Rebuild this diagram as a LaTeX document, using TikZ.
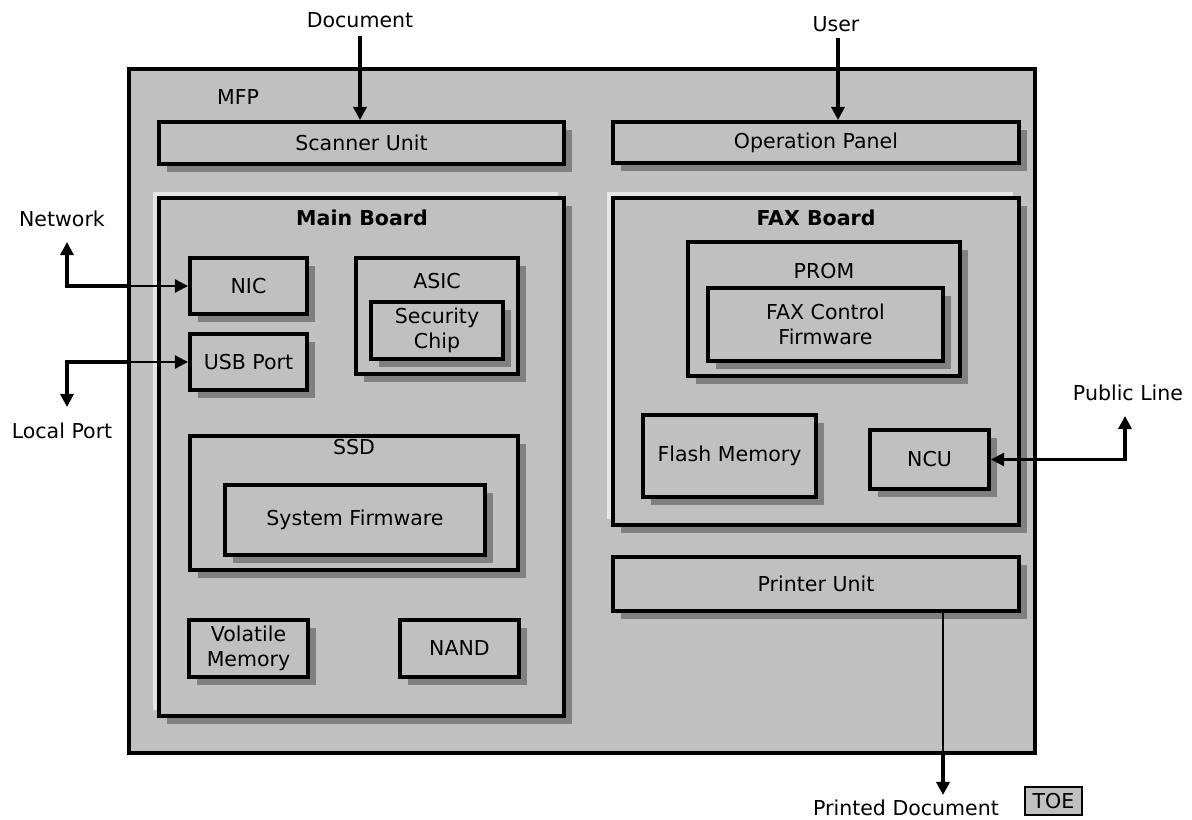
\documentclass[tikz,border=0pt]{standalone}
\usepackage{fontspec}
\setmainfont{DejaVu Sans}
\usetikzlibrary{arrows.meta,shadows}

\definecolor{boxgray}{HTML}{C0C0C0}
\definecolor{shadegray}{HTML}{808080}
\definecolor{litegray}{HTML}{E6E6E6}

\tikzset{
  dims/.style 2 args={minimum width=#1*0.025cm, minimum height=#2*0.025cm},
  unit/.style={draw, line width=2.8pt, fill=boxgray, align=center, inner sep=0pt,
    drop shadow={shadow xshift=0.2cm, shadow yshift=-0.2cm, fill=shadegray, opacity=1}},
  board/.style={unit,
    drop shadow={shadow xshift=-0.15cm, shadow yshift=0.15cm, fill=litegray, opacity=1}},
  nestbox/.style={draw, line width=2.2pt, fill=boxgray, align=center, inner sep=0pt,
    drop shadow={shadow xshift=0.2cm, shadow yshift=-0.2cm, fill=shadegray, opacity=1}},
  headed/.style={-{Triangle[length=0.33cm, width=0.33cm]}},
  ext/.style={line width=2.6pt},
  int/.style={line width=1.5pt}
}

\begin{document}
\begin{tikzpicture}[x=0.025cm, y=-0.025cm,
  every node/.style={font=\fontsize{14.6}{18}\selectfont},
  heading/.style={font=\fontsize{14.6}{18}\selectfont\bfseries}]

  \useasboundingbox (0,0) rectangle (1192,820);

  \node[draw, line width=3pt, fill=boxgray, dims={906}{684}] (mfp) at (582,411) {};
  \node (mfptxt) at (238,97) {MFP};

  \begin{scope}
    \node[unit, dims={405}{42}] (scan) at (361.5,143) {Scanner Unit};
    \node[unit, dims={406}{41}] (panel) at (816,142.5) {Operation Panel};
    \node[unit, dims={406}{54}] (prt) at (816,584) {Printer Unit};

    \node[board, dims={405}{518}] (mainb) at (361.5,457) {};
    \node[heading] (maintxt) at (362,218) {Main Board};
    \node[board, dims={406}{327}] (faxb) at (816,361.5) {};
    \node[heading] (faxtxt) at (816,218) {FAX Board};
  \end{scope}

  \begin{scope}
    \node[unit, dims={117}{56}] (nic) at (248.5,286) {NIC};
    \node[unit, dims={117}{56}] (usb) at (248.5,362) {USB Port};
    \node[unit, dims={162}{116}] (asic) at (437,316) {};
    \node (asictxt) at (437,281) {ASIC};
    \node[unit, dims={132}{57}] (chip) at (437,330.5) {Security\\Chip};
    \node[unit, dims={328}{134}] (ssd) at (354,503) {};
    \node (ssdtxt) at (354,447) {SSD};
    \node[unit, dims={260}{70}] (sysfw) at (355,520) {System Firmware};
    \node[unit, dims={119}{57}] (vmem) at (248.5,648.5) {Volatile\\Memory};
    \node[unit, dims={119}{57}] (nand) at (459.5,648.5) {NAND};

    \node[nestbox, dims={272}{134}] (prom) at (824,309) {};
    \node (promtxt) at (824,271) {PROM};
    \node[nestbox, dims={235}{73}] (faxfw) at (825.5,324.5) {FAX Control\\Firmware};
    \node[unit, dims={173}{82}] (flash) at (729.5,456) {Flash Memory};
    \node[unit, dims={119}{59}] (ncu) at (929.5,459.5) {NCU};
  \end{scope}

  \node (doc) at (360,20) {Document};
  \node (user) at (836,24) {User};
  \node (net) at (62,219) {Network};
  \node (local) at (62,431) {Local Port};
  \node (pub) at (1128,393) {Public Line};
  \node (printed) at (906,808) {Printed Document};
  \node[draw, line width=2pt, fill=boxgray, dims={57}{28}] (toe) at (1053.5,801) {TOE};

  \coordinate (docstart) at (360,36);
  \coordinate (userstart) at (838,38);
  \coordinate (nettip) at (67,242);
  \coordinate (localtip) at (67,407);
  \coordinate (pubtip) at (1125,416);
  \coordinate (prttip) at (943,795);

  \draw[line width=2.2pt, headed] (docstart) -- (docstart |- scan.north);
  \draw[line width=2.2pt, headed] (userstart) -- (userstart |- panel.north);

  \draw[ext, headed] (mfp.west |- nic.west) -| (nettip);
  \draw[int, headed] (mfp.west |- nic.west) -- (nic.west);
  \draw[ext, headed] (mfp.west |- usb.west) -| (localtip);
  \draw[int, headed] (mfp.west |- usb.west) -- (usb.west);
  \draw[ext, headed] (mfp.east |- ncu.east) -| (pubtip);
  \draw[int, headed] (mfp.east |- ncu.east) -- (ncu.east);
  \draw[int] (prt.south -| prttip) -- (mfp.south -| prttip);
  \draw[ext, headed] (mfp.south -| prttip) -- (prttip);

\end{tikzpicture}
\end{document}
